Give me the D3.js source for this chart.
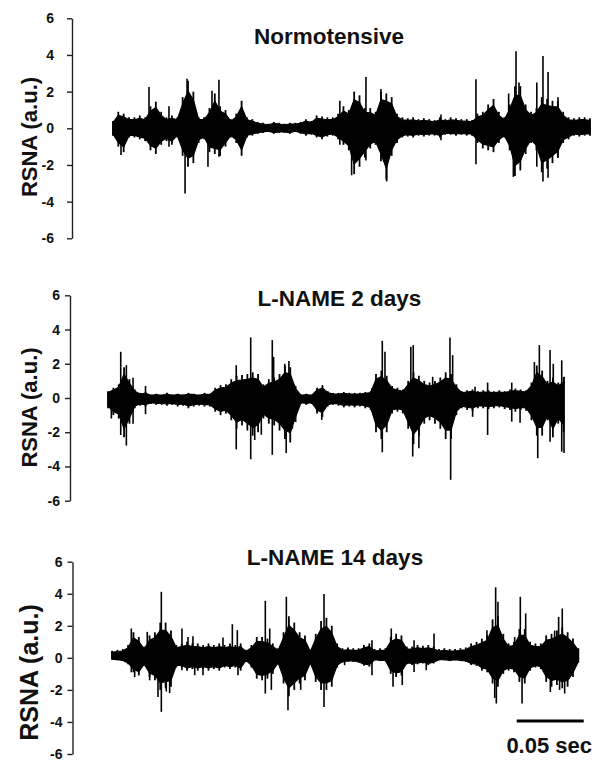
<!DOCTYPE html>
<html>
<head>
<meta charset="utf-8">
<script src="https://cdn.jsdelivr.net/npm/d3@7"></script>
<style>
  html, body { margin: 0; padding: 0; background: #fff; }
  text { font-family: "Liberation Sans", Arial, Helvetica, sans-serif; font-weight: bold; fill: #111; }
</style>
</head>
<body>
<svg id="chart" width="602" height="762"></svg>
<script>
// ---------------- DATA ----------------
const yTicks = [-6, -4, -2, 0, 2, 4, 6];
const panelTitles = ["Normotensive", "L-NAME 2 days", "L-NAME 14 days"];
const yAxisLabel = "RSNA (a.u.)";
const scaleBarLabel = "0.05 sec";
const scaleBarMs = 50;           // 0.05 s
const scaleBarStartMs = 305;
const sampleStepMs = 4;          // envelope sampling interval

// Normotensive: envelope (upper/lower) every 4 ms from t = 3.7 ms
const normStartMs = 3.7;
const normUpper = [0.4,0.9,0.8,0.6,0.6,0.7,0.6,1.2,1.45,0.9,
  0.6,0.7,0.6,1.7,2.6,2.0,0.6,0.6,1.1,1.9,
  1.2,1.0,0.5,0.8,1.5,0.6,0.5,0.35,0.3,0.25,
  0.35,0.3,0.25,0.3,0.3,0.35,0.5,0.4,0.7,0.65,
  0.6,0.6,0.8,1.2,1.0,2.0,1.8,1.1,1.1,0.9,
  2.0,1.9,1.7,0.8,0.6,0.55,0.6,0.5,0.55,0.5,
  0.45,0.6,0.5,0.6,0.55,0.5,0.5,0.45,0.8,0.9,
  1.3,1.6,0.9,0.6,1.3,2.3,2.3,1.3,0.9,1.1,
  1.7,1.6,1.5,1.5,0.9,0.6,0.55,0.6,0.6,0.55];
const normLower = [-0.4,-1.0,-1.3,-0.5,-0.5,-0.6,-0.7,-1.2,-1.4,-0.9,
  -0.7,-0.9,-0.5,-1.5,-2.1,-1.9,-0.8,-0.6,-1.3,-1.4,
  -1.5,-1.0,-0.5,-0.8,-1.5,-0.5,-0.4,-0.3,-0.25,-0.2,
  -0.3,-0.25,-0.25,-0.3,-0.2,-0.3,-0.4,-0.35,-0.5,-0.6,
  -0.45,-0.4,-0.6,-0.9,-1.2,-2.5,-2.1,-1.6,-1.1,-0.9,
  -1.8,-2.8,-1.5,-0.8,-0.5,-0.45,-0.5,-0.4,-0.45,-0.4,
  -0.4,-0.5,-0.35,-0.35,-0.4,-0.35,-0.4,-0.4,-0.8,-1.1,
  -1.2,-1.3,-0.8,-0.5,-1.2,-2.6,-2.3,-1.4,-0.8,-1.2,
  -2.4,-2.2,-1.9,-1.6,-0.8,-0.6,-0.4,-0.45,-0.4,-0.4];
// isolated spikes: [time ms, low, high]
const normSpikes = [[9.7,-1.45,0],[30.6,-0.5,2.25],[45.5,-1.0,1.2],[57.5,-3.55,0],[59,0,2.7],
  [74.6,-2.1,0],[77.6,0,2.05],[82.8,-1.55,2.65],[173,-0.9,1.5],[181.8,-2.56,0],[192.5,-1.75,2.8],
  [203.7,0,2.15],[208,-2.9,0],[248.5,-0.65,0.75],[274.6,-1.96,2.67],[299,-0.8,1.9],
  [302.5,-2.65,0],[304.5,0,4.2],[306.7,0,2.5],[320,-2.1,2.5],[324.6,-2.9,3.95],
  [328.4,-2.7,3.07],[335.8,-1.6,1.7]];

// L-NAME 2 days
const l2StartMs = 0;
const l2Upper = [0.4,0.6,0.8,1.8,1.1,0.5,0.3,0.35,0.2,0.25,
  0.2,0.3,0.2,0.25,0.2,0.3,0.25,0.2,0.3,0.25,
  0.6,0.75,0.8,1.1,1.3,1.35,1.4,1.5,1.4,0.8,
  1.1,1.2,1.4,1.9,1.8,0.7,0.2,0.25,0.2,0.6,
  0.75,0.4,0.3,0.3,0.35,0.3,0.3,0.3,0.35,0.4,
  1.4,1.6,1.3,0.7,0.6,0.5,1.0,1.5,1.3,1.0,
  0.9,1.0,1.2,1.5,1.4,0.8,0.4,0.45,0.5,0.4,
  0.45,0.45,0.4,0.45,0.4,0.5,0.55,0.5,0.45,0.9,
  1.9,1.6,1.0,1.2,0.9,1.2];
const l2Lower = [-0.6,-1.0,-1.2,-2.3,-1.5,-0.6,-0.45,-0.5,-0.35,-0.4,
  -0.4,-0.45,-0.4,-0.5,-0.45,-0.6,-0.5,-0.45,-0.5,-0.5,
  -0.8,-1.0,-0.9,-1.3,-1.8,-1.6,-1.9,-2.2,-2.0,-1.2,
  -1.5,-1.6,-1.9,-2.4,-2.6,-1.4,-0.35,-0.4,-0.35,-0.9,
  -1.1,-0.5,-0.4,-0.45,-0.55,-0.5,-0.55,-0.5,-0.6,-0.7,
  -2.0,-2.4,-2.0,-0.9,-0.8,-0.9,-1.8,-2.7,-2.2,-1.5,
  -1.3,-1.5,-1.8,-2.4,-2.4,-1.0,-0.6,-0.7,-0.75,-0.6,
  -0.6,-0.65,-0.6,-0.55,-0.65,-0.7,-0.8,-0.7,-0.75,-1.3,
  -2.2,-2.2,-1.3,-2.3,-1.5,-2.0];
const l2Spikes = [[2.5,-1.2,0],[9.5,-2.16,2.7],[13.7,-2.78,1.92],[18.7,-1.5,1.18],[28,-0.95,0.7],
  [95.7,-3.0,1.92],[106.5,-3.58,3.54],[109.5,-2.45,0],[114.4,-2.15,0.5],[122.6,-3.32,3.38],
  [123.6,0,2.4],[131.9,0,2.0],[133,-3.22,0],[135,0,2.16],[137.6,-1.8,0],[159.5,-1.28,0],
  [196.8,-0.8,0.56],[204.7,-3.17,3.34],[206.7,0,2.7],[226,0,3.0],[227.4,-3.42,0],
  [227.8,0,3.09],[232,-2.93,0],[242.3,0,1.24],[255.2,-0.5,3.54],[255.7,-4.78,0],
  [257.2,0,2.5],[272.1,-1.1,0],[273.9,0,0.66],[283.3,-2.16,0.9],[301.3,-1.38,0.9],
  [307.5,-1.44,0],[318.2,0,2.1],[320.7,-3.52,0],[321.9,0,3.09],[329.9,-2.55,2.8],
  [332.3,0,2.0],[338.6,-3.13,2.2],[340.3,-3.22,1.24]];

// L-NAME 14 days
const l14StartMs = 3;
const l14Upper = [0.45,0.5,0.55,0.8,1.6,1.3,0.7,1.4,1.6,2.2,
  2.2,1.7,0.8,0.9,1.0,0.9,0.9,0.8,0.9,0.8,
  0.9,0.8,0.9,0.8,0.9,0.5,0.8,1.3,1.3,1.2,
  0.9,0.6,1.6,2.6,2.2,1.6,1.4,0.5,1.5,2.3,
  2.5,2.0,0.9,0.6,0.65,0.6,0.6,0.8,0.9,0.55,
  0.6,0.6,1.3,1.5,1.4,0.7,0.7,0.8,0.75,0.8,
  0.7,0.55,0.6,0.55,0.55,0.6,0.65,0.9,1.0,1.2,
  1.4,2.4,2.6,1.5,0.9,1.0,1.8,1.8,1.0,0.9,
  0.9,1.4,1.5,1.7,1.9,1.6,1.2,0.6];
const l14Lower = [-0.1,-0.15,-0.2,-0.4,-0.9,-1.1,-0.5,-1.2,-1.4,-2.0,
  -1.9,-1.8,-0.6,-0.6,-0.8,-0.7,-0.8,-0.7,-0.8,-0.7,
  -0.8,-0.6,-0.7,-0.6,-0.8,-0.2,-0.6,-1.3,-1.4,-1.3,
  -1.0,-0.4,-1.6,-2.4,-2.0,-1.6,-1.4,-0.4,-1.5,-2.0,
  -2.0,-1.8,-0.6,-0.3,-0.25,-0.25,-0.3,-0.5,-0.55,-0.15,
  -0.2,-0.2,-1.0,-1.2,-1.1,-0.4,-0.45,-0.4,-0.35,-0.45,
  -0.35,-0.15,-0.15,-0.2,-0.15,-0.2,-0.25,-0.45,-0.5,-0.8,
  -0.9,-1.6,-1.8,-1.0,-0.8,-0.9,-1.5,-1.6,-0.8,-0.6,
  -0.7,-1.5,-1.8,-1.7,-1.9,-1.8,-1.2,-0.3];
const l14Spikes = [[17.4,-0.9,1.83],[19.9,-1.2,0],[29.3,0,1.62],[31.1,-1.4,0],[37.3,-2.44,0],
  [39.8,-3.37,4.12],[43.5,-2.1,0],[46,-2.2,0],[55.2,-0.77,1.83],[59.7,0,1.3],[63.4,0,1.35],
  [64.7,-1.08,0],[70.9,-1.08,0],[85.8,0,1.27],[92.8,0,2.1],[96.5,0,1.73],[97,-1.08,0],
  [117.4,-2.23,3.56],[120.7,0,1.83],[121.9,-2.0,0],[133.1,0,3.81],[134.3,-3.27,0],
  [143.8,-2.0,0],[161.2,-3.06,3.98],[176.6,-0.46,0],[197,-1.08,1.1],[211.4,0,1.83],
  [212.7,-1.8,0],[219.6,-1.7,0],[228.4,-0.88,1.1],[237.5,-0.77,0],[243.3,0,1.52],
  [282.8,0,1.73],[288.6,-2.5,0],[289.3,0,4.4],[289.8,-2.85,0],[291,0,3.5],[303.5,0,1.3],
  [307.7,0,3.81],[309,-2.85,0],[311.7,0,2.77],[330.1,-2.13,0],[333.3,0,1.7],[336.3,0,2.56],
  [337,-2.0,0],[339,0,3.08],[340.8,-2.23,0]];

// ---------------- LAYOUT ----------------
const panels = [
  { title: panelTitles[0], start: normStartMs, upper: normUpper, lower: normLower, spikes: normSpikes,
    yTop: 18.3, yBottom: 238.3, axisX: 72, pad: 13, titleX: 329, titleY: 44,
    labelX: 37, labelY: 137, labelSize: 22 },
  { title: panelTitles[1], start: l2StartMs, upper: l2Upper, lower: l2Lower, spikes: l2Spikes,
    yTop: 295.3, yBottom: 500.7, axisX: 70, pad: 5, titleX: 339.5, titleY: 306,
    labelX: 37, labelY: 407.5, labelSize: 22 },
  { title: panelTitles[2], start: l14StartMs, upper: l14Upper, lower: l14Lower, spikes: l14Spikes,
    yTop: 561.7, yBottom: 754, axisX: 72.5, pad: 5, titleX: 335, titleY: 565,
    labelX: 38, labelY: 672.5, labelSize: 25 }
];
const coreFraction = 0.78;   // solid core of the trace vs. its peak extents (drawing style)

const svg = d3.select("#chart");
svg.append("rect").attr("width", 602).attr("height", 762).attr("fill", "#fff");

// shared time scale (ms -> px)
const x = d3.scaleLinear().domain([0, 360]).range([108, 108 + 360 * 1.34]);
const fmt = d => (d < 0 ? "-" : "") + Math.abs(d);

panels.forEach(p => {
  const y = d3.scaleLinear().domain([-6, 6]).range([p.yBottom, p.yTop]);
  const g = svg.append("g");

  // axis
  const ax = g.append("g")
    .attr("transform", `translate(${p.axisX},0)`)
    .call(d3.axisLeft(y).tickValues(yTicks).tickFormat(fmt).tickSize(5).tickSizeOuter(0).tickPadding(p.pad));
  ax.select(".domain").attr("stroke", "#222").attr("stroke-width", 1.4);
  ax.selectAll(".tick line").attr("stroke", "#222").attr("stroke-width", 1.4);
  ax.selectAll(".tick text")
    .style("font-family", '"Liberation Sans", Arial, sans-serif')
    .style("font-weight", "bold").style("font-size", "14px").attr("fill", "#111");

  // y label
  g.append("text")
    .attr("transform", `translate(${p.labelX},${p.labelY}) rotate(-90)`)
    .attr("text-anchor", "middle")
    .style("font-size", p.labelSize + "px")
    .text(yAxisLabel);

  // title
  g.append("text")
    .attr("x", p.titleX).attr("y", p.titleY)
    .attr("text-anchor", "middle")
    .style("font-size", "22.5px")
    .text(p.title);

  // envelope samples
  const env = p.upper.map((u, i) => ({ t: p.start + i * sampleStepMs, u: u, l: p.lower[i] }));

  // solid core
  const area = d3.area().x(d => x(d.t))
    .y0(d => y(d.l * coreFraction)).y1(d => y(d.u * coreFraction)).curve(d3.curveLinear);
  g.append("path").datum(env).attr("d", area)
    .attr("fill", "#000").attr("stroke", "#000").attr("stroke-width", 1.2).attr("stroke-linejoin", "round");

  // peak-to-peak strokes at each sample
  g.selectAll("line.env").data(env).enter().append("line")
    .attr("class", "env")
    .attr("x1", d => x(d.t)).attr("x2", d => x(d.t))
    .attr("y1", d => y(d.l)).attr("y2", d => y(d.u))
    .attr("stroke", "#000").attr("stroke-width", 1.8);

  // spikes
  g.selectAll("line.spike").data(p.spikes).enter().append("line")
    .attr("class", "spike")
    .attr("x1", d => x(d[0])).attr("x2", d => x(d[0]))
    .attr("y1", d => y(d[1])).attr("y2", d => y(d[2]))
    .attr("stroke", "#000").attr("stroke-width", 1.6);
});

// scale bar
svg.append("line")
  .attr("x1", x(scaleBarStartMs)).attr("x2", x(scaleBarStartMs + scaleBarMs))
  .attr("y1", 721).attr("y2", 721)
  .attr("stroke", "#000").attr("stroke-width", 3);
svg.append("text")
  .attr("x", (x(scaleBarStartMs) + x(scaleBarStartMs + scaleBarMs)) / 2 - 1)
  .attr("y", 753)
  .attr("text-anchor", "middle")
  .style("font-size", "22px")
  .text(scaleBarLabel);
</script>
</body>
</html>
